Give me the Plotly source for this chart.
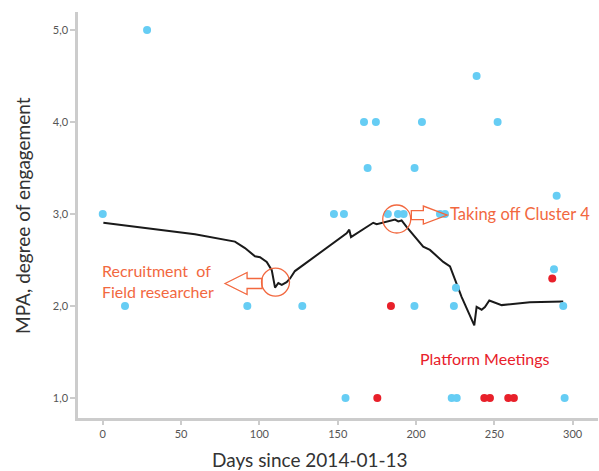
import plotly.graph_objects as go

# ---- data ----
trend_x = [0.4, 31.3, 58.9, 84.4, 90.8, 97.2, 100.4, 104.7, 107.9, 110.0, 112.1, 114.3, 117.4,
           119.6, 122.7, 155.7, 157.4, 158.5, 172.7, 174.9, 183.4, 186.6, 188.7, 190.8, 194.0,
           204.6, 208.9, 217.4, 221.7, 223.8, 229.1, 237.2, 238.7, 241.9, 244.0, 246.8, 254.7,
           272.7, 294.0]
trend_y = [2.905, 2.84, 2.78, 2.70, 2.63, 2.54, 2.53, 2.48, 2.39, 2.20, 2.25, 2.23, 2.26,
           2.30, 2.38, 2.79, 2.83, 2.75, 2.905, 2.89, 2.93, 2.94, 2.92, 2.93, 2.86,
           2.645, 2.61, 2.48, 2.43, 2.34, 2.10, 1.79, 1.99, 1.96, 1.99, 2.06, 2.01,
           2.04, 2.05]

blue_x = [0, 14.2, 28.3, 92.3, 127.4, 147.6, 154, 155, 166.8, 174.4, 169.1, 182, 188.5, 192.1,
          199.1, 203.8, 199, 215.3, 218.5, 224.2, 225.5, 222.8, 226, 238.7, 252.1, 288.1,
          289.8, 294, 294.9]
blue_y = [3.0, 2.0, 5.0, 2.0, 2.0, 3.0, 3.0, 1.0, 4.0, 4.0, 3.5, 3.0, 3.0, 3.0,
          3.5, 4.0, 2.0, 3.0, 3.0, 2.0, 2.2, 1.0, 1.0, 4.5, 4.0, 2.4,
          3.2, 2.0, 1.0]

red_x = [184.0, 175.3, 243.6, 247.2, 258.9, 262.5, 287.0]
red_y = [2.0, 1.0, 1.0, 1.0, 1.0, 1.0, 2.3]

x_ticks = [0, 50, 100, 150, 200, 250, 300]
y_ticks = [1, 2, 3, 4, 5]

ORANGE = "#F2683F"
RED = "#E8202A"
BLUE = "#66CDF4"
AXIS = "#CCCCCC"
FONT = "Lato"

fig = go.Figure()
fig.add_trace(go.Scatter(x=trend_x, y=trend_y, mode="lines",
                         line=dict(color="#1a1a1a", width=2), hoverinfo="skip"))
fig.add_trace(go.Scatter(x=blue_x, y=blue_y, mode="markers",
                         marker=dict(color=BLUE, size=8, line=dict(width=0))))
fig.add_trace(go.Scatter(x=red_x, y=red_y, mode="markers",
                         marker=dict(color=RED, size=8, line=dict(width=0))))

# circles (pixel-sized, anchored in data space)
for cx, cy in [(110.3, 2.26), (187.7, 2.946)]:
    fig.add_shape(type="circle", xref="x", yref="y", xsizemode="pixel", ysizemode="pixel",
                  xanchor=cx, yanchor=cy, x0=-14, x1=14, y0=-14, y1=14,
                  line=dict(color=ORANGE, width=1.3), fillcolor="rgba(0,0,0,0)")

# hollow block arrows
fig.add_shape(type="path", xref="x", yref="y", xsizemode="pixel", ysizemode="pixel",
              xanchor=78.1, yanchor=2.245,
              path="M 0,0 L 22,11 L 22,5 L 37,5 L 37,-5 L 22,-5 L 22,-11 Z",
              line=dict(color=ORANGE, width=1.3), fillcolor="rgba(255,255,255,0)")
fig.add_shape(type="path", xref="x", yref="y", xsizemode="pixel", ysizemode="pixel",
              xanchor=220.0, yanchor=2.989,
              path="M 0,0 L -24,9 L -24,4.5 L -36,4.5 L -36,-4.5 L -24,-4.5 L -24,-9 Z",
              line=dict(color=ORANGE, width=1.3), fillcolor="rgba(255,255,255,0)")

annos = [
    dict(x=-1.7, y=2.27, text="Recruitment  of<br>Field researcher", xanchor="left", align="left",
         font=dict(color=ORANGE, size=16, family=FONT)),
    dict(x=220.6, y=3.0, text="Taking off Cluster 4", xanchor="left",
         font=dict(color=ORANGE, size=16.5, family=FONT)),
    dict(x=201.5, y=1.43, text="Platform Meetings", xanchor="left",
         font=dict(color=RED, size=16, family=FONT)),
]
for a in annos:
    fig.add_annotation(xref="x", yref="y", yanchor="middle", showarrow=False, **a)

fig.add_annotation(xref="paper", yref="paper", x=-0.1077, y=0.5, text="MPA, degree of engagement",
                   textangle=-90, showarrow=False, xanchor="center", yanchor="middle",
                   font=dict(color="#333333", size=19, family=FONT))
fig.add_annotation(xref="paper", yref="paper", x=0.446, y=-0.1034, text="Days since 2014-01-13",
                   showarrow=False, xanchor="center", yanchor="middle",
                   font=dict(color="#333333", size=19, family=FONT))

fig.update_layout(
    width=599, height=471,
    margin=dict(l=78, r=1, t=12, b=53),
    plot_bgcolor="white", paper_bgcolor="white",
    showlegend=False,
    separators=",.",
    xaxis=dict(range=[-15.8, 316.2], tickvals=x_ticks, showgrid=False, zeroline=False,
               showline=True, linecolor=AXIS, linewidth=2.5,
               ticks="outside", ticklen=4, tickwidth=2, tickcolor=AXIS,
               tickfont=dict(size=11, color="#555555", family=FONT)),
    yaxis=dict(range=[0.783, 5.196], tickvals=y_ticks, tickformat=".1f", showgrid=False,
               zeroline=False, showline=True, linecolor=AXIS, linewidth=2.5,
               ticks="outside", ticklen=5, tickwidth=2, tickcolor=AXIS,
               tickfont=dict(size=11, color="#555555", family=FONT)),
)

fig.write_html("out.html", config={"displayModeBar": False},
               post_script="document.body.style.margin='0';document.body.style.overflow='hidden';")
